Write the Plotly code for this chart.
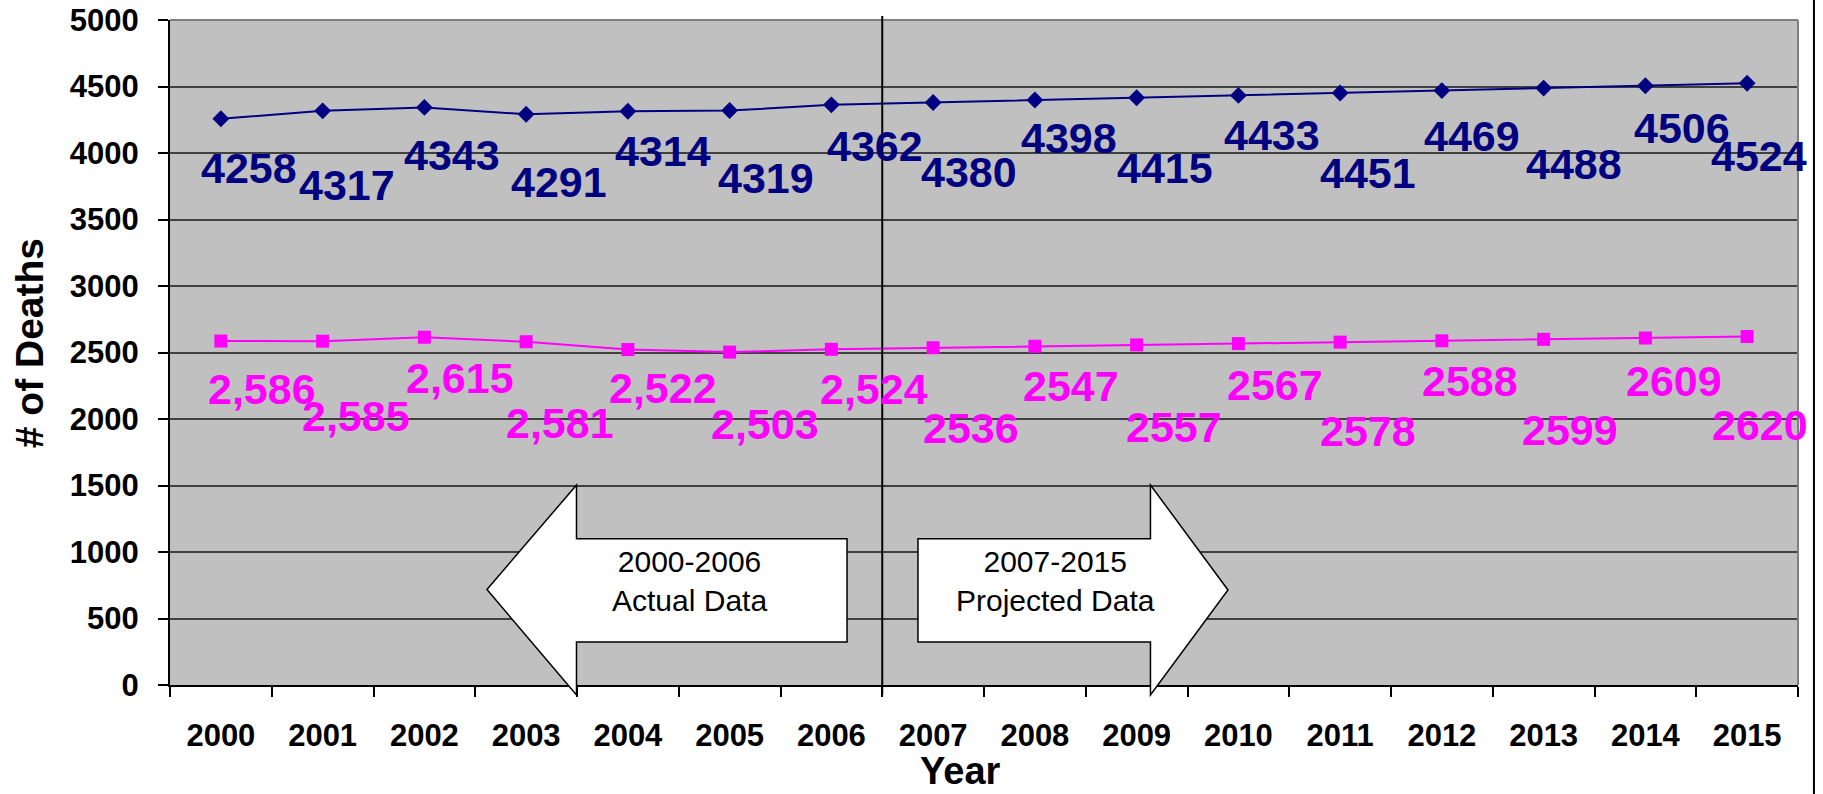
import plotly.graph_objects as go

# ---- data -------------------------------------------------------------
years = ["2000", "2001", "2002", "2003", "2004", "2005", "2006", "2007",
         "2008", "2009", "2010", "2011", "2012", "2013", "2014", "2015"]

all_deaths = [4258, 4317, 4343, 4291, 4314, 4319, 4362, 4380,
              4398, 4415, 4433, 4451, 4469, 4488, 4506, 4524]

sub_deaths = [2586, 2585, 2615, 2581, 2522, 2503, 2524, 2536,
              2547, 2557, 2567, 2578, 2588, 2599, 2609, 2620]

# the actual-data years carry a thousands separator, projections do not
sub_label_fmt = ["{:,}"] * 7 + ["{}"] * 9

# ---- label placement (pixel offsets from each marker) -----------------
all_dx = [28, 24, 28, 33, 35, 36, 44, 36, 34, 28, 34, 28, 30, 30, 37, 12]
all_dy = [49, 74, 48, 68, 40, 67, 41, 70, 38, 70, 40, 80, 45, 76, 42, 73]
sub_dx = [41, 33, 36, 34, 35, 35, 43, 38, 36, 37, 37, 28, 28, 26, 29, 13]
sub_dy = [48, 75, 41, 81, 38, 72, 40, 80, 40, 82, 41, 89, 40, 91, 43, 88]

NAVY = "#000080"
PINK = "#FF00FF"
FONT = "Liberation Sans, Arial, sans-serif"
X_RANGE = (-0.5, 15.5)
Y_RANGE = (0, 5000)


def xp(x):
    return (x - X_RANGE[0]) / (X_RANGE[1] - X_RANGE[0])


def yp(y):
    return (y - Y_RANGE[0]) / (Y_RANGE[1] - Y_RANGE[0])


fig = go.Figure()

fig.add_trace(go.Scatter(
    x=years, y=all_deaths, mode="lines+markers",
    line=dict(color=NAVY, width=2),
    marker=dict(symbol="diamond", size=13, color=NAVY),
    showlegend=False, hoverinfo="x+y",
))
fig.add_trace(go.Scatter(
    x=years, y=sub_deaths, mode="lines+markers",
    line=dict(color=PINK, width=2),
    marker=dict(symbol="square", size=13, color=PINK),
    showlegend=False, hoverinfo="x+y",
))

annotations = []
# value labels: x is given as the category index so numeric-looking
# year names are not mistaken for positions
for i, (v, dx, dy) in enumerate(zip(all_deaths, all_dx, all_dy)):
    annotations.append(dict(
        x=i, y=v, xref="x", yref="y", text=f"<b>{v}</b>", showarrow=False,
        xanchor="center", yanchor="middle", xshift=dx, yshift=-dy,
        font=dict(family=FONT, size=43, color=NAVY, weight="bold"),
    ))
for i, (v, fmt, dx, dy) in enumerate(zip(sub_deaths, sub_label_fmt, sub_dx, sub_dy)):
    annotations.append(dict(
        x=i, y=v, xref="x", yref="y", text="<b>" + fmt.format(v) + "</b>",
        showarrow=False,
        xanchor="center", yanchor="middle", xshift=dx, yshift=-dy,
        font=dict(family=FONT, size=43, color=PINK, weight="bold"),
    ))

# arrow captions
annotations.append(dict(
    x=xp(4.61), y=yp(782), xref="paper", yref="paper",
    text="2000-2006<br>Actual Data", showarrow=False,
    xanchor="center", yanchor="middle", align="center",
    font=dict(family=FONT, size=30, color="black"),
))
annotations.append(dict(
    x=xp(8.20), y=yp(782), xref="paper", yref="paper",
    text="2007-2015<br>Projected Data", showarrow=False,
    xanchor="center", yanchor="middle", align="center",
    font=dict(family=FONT, size=30, color="black"),
))

# axis titles
annotations.append(dict(
    x=-0.0866, y=0.514, xref="paper", yref="paper", text="<b># of Deaths</b>",
    showarrow=False, textangle=-90, xanchor="center", yanchor="middle",
    font=dict(family=FONT, size=39, color="black", weight="bold"),
))
annotations.append(dict(
    x=0.4853, y=-0.1635, xref="paper", yref="paper", text="<b>Year</b>",
    showarrow=False, xanchor="center", yanchor="bottom",
    font=dict(family=FONT, size=38, color="black", weight="bold"),
))


def arrow_path(points):
    return "M " + " L ".join(f"{xp(a):.5f},{yp(b):.5f}" for a, b in points) + " Z"


# block arrows, outlined in axis units
left_arrow = [(2.615, 718), (3.495, 1504), (3.495, 1100), (6.154, 1100),
              (6.154, 323), (3.495, 323), (3.495, -75)]
right_arrow = [(9.898, 714), (9.136, 1504), (9.136, 1100), (6.851, 1100),
               (6.851, 323), (9.136, 323), (9.136, -75)]

shapes = [
    # plot frame on top and right
    dict(type="line", xref="paper", yref="paper", x0=0, x1=1, y0=1, y1=1,
         line=dict(color="#808080", width=2)),
    dict(type="line", xref="paper", yref="paper", x0=1, x1=1, y0=0, y1=1,
         line=dict(color="#808080", width=2)),
    # divider between actual and projected years
    dict(type="line", xref="paper", yref="paper", x0=xp(6.5), x1=xp(6.5),
         y0=-0.015, y1=1.006, line=dict(color="black", width=2)),
    # outer chart border on the right
    dict(type="line", xref="paper", yref="paper", x0=1.0098, x1=1.0098,
         y0=-0.2, y1=1.05, line=dict(color="black", width=2)),
    dict(type="path", xref="paper", yref="paper", path=arrow_path(left_arrow),
         fillcolor="white", line=dict(color="black", width=1.5)),
    dict(type="path", xref="paper", yref="paper", path=arrow_path(right_arrow),
         fillcolor="white", line=dict(color="black", width=1.5)),
]

fig.update_layout(
    width=1823, height=794,
    margin=dict(l=170, r=25, t=20, b=109),
    paper_bgcolor="white", plot_bgcolor="#C0C0C0",
    font=dict(family=FONT, color="black"),
    annotations=annotations, shapes=shapes,
    hovermode="closest",
)

fig.update_xaxes(
    type="category", range=list(X_RANGE), tickson="boundaries",
    ticks="outside", ticklen=10, tickcolor="black", tickwidth=1.5,
    showgrid=False, showline=True, linecolor="black", linewidth=2,
    tickfont=dict(family=FONT, size=31, color="black", weight="bold"),
    ticklabelstandoff=22, zeroline=False, automargin=False,
)
fig.update_yaxes(
    range=list(Y_RANGE), dtick=500, tick0=0,
    ticks="outside", ticklen=10, tickcolor="black", tickwidth=1.5,
    showgrid=True, gridcolor="#404040", gridwidth=1.5,
    showline=True, linecolor="black", linewidth=2, zeroline=False,
    tickfont=dict(family=FONT, size=31, color="black", weight="bold"),
    ticklabelstandoff=13, automargin=False,
)

fig.write_html("out.html")
